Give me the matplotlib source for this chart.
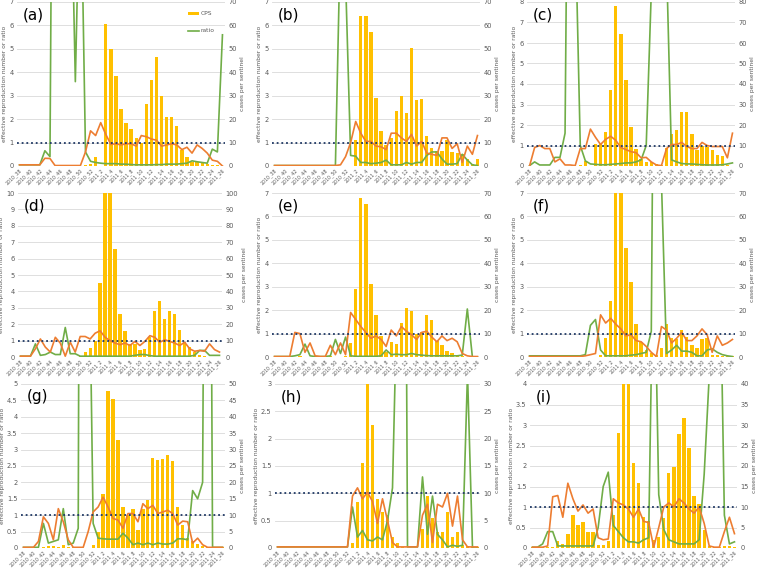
import matplotlib
matplotlib.use("Agg")
import matplotlib.pyplot as plt
from matplotlib.patches import Patch
from matplotlib.lines import Line2D
import numpy as np

weeks = ["2010_38", "2010_39", "2010_40", "2010_41", "2010_42", "2010_43", "2010_44",
         "2010_45", "2010_46", "2010_47", "2010_48", "2010_49", "2010_50", "2010_51",
         "2010_52", "2011_1", "2011_2", "2011_3", "2011_4", "2011_5", "2011_6",
         "2011_7", "2011_8", "2011_9", "2011_10", "2011_11", "2011_12", "2011_13",
         "2011_14", "2011_15", "2011_16", "2011_17", "2011_18", "2011_19", "2011_20",
         "2011_21", "2011_22", "2011_23", "2011_24", "2011_25", "2011_26"]

# ---- panel (a)
cps_a = [0, 0, 0, 0, 0, 0, 0, 0, 0, 0, 0, 0, 0, 0.3, 0.8, 3.8, 0, 60.5, 50, 38.5,
         24.5, 18.5, 16, 12, 10, 26.5, 36.5, 46.5, 30, 20.8, 21, 17.2, 7, 4, 1.8,
         1.5, 1.2, 1.0, 0.5, 0.3, 0.2]
rt_a = [0.05, 0.05, 0.05, 0.05, 0.05, 0.33, 0.32, 0.02, 0.02, 0.02, 0.02, 0.02, 0.02,
        0.6, 1.5, 1.3, 1.85, 1.35, 0.92, 0.95, 0.9, 0.95, 0.95, 0.85, 1.3, 1.25, 1.15,
        1.1, 0.85, 0.9, 0.95, 0.9, 0.7, 0.8, 0.55, 0.9, 0.75, 0.55, 0.25, 0.2, 0.0]
ratio_a = [0.05, 0.05, 0.05, 0.05, 0.05, 0.65, 0.4, 34, 40, 30, 14, 3.6, 13.4, 0.6,
           0.2, 0.15, 0.12, 0.1, 0.1, 0.1, 0.08, 0.08, 0.06, 0.05, 0.05, 0.05, 0.05,
           0.06, 0.06, 0.08, 0.08, 0.08, 0.1, 0.12, 0.22, 0.18, 0.15, 0.12, 0.72, 0.6, 5.6]

# ---- panel (b)
cps_b = [0, 0, 0, 0, 0, 0, 0, 0, 0, 0, 0, 0, 0, 0, 0, 0, 11, 64, 64, 57, 29, 15, 9,
         12, 23.5, 30, 22.5, 50.5, 28, 28.5, 13, 7.5, 6.5, 6.5, 11, 6, 5.5, 5, 3, 1, 3]
rt_b = [0.02, 0.02, 0.02, 0.02, 0.02, 0.02, 0.02, 0.02, 0.02, 0.02, 0.02, 0.02, 0.02,
        0.05, 0.4, 1.0, 1.9, 1.4, 1.05, 1.05, 0.85, 0.82, 0.7, 1.4, 1.4, 1.2, 1.05,
        1.35, 0.85, 1.05, 0.55, 0.5, 0.45, 1.2, 1.2, 0.75, 0.95, 0.15, 0.85, 0.5, 1.3]
ratio_b = [0.02, 0.02, 0.02, 0.02, 0.02, 0.02, 0.02, 0.02, 0.02, 0.02, 0.02, 0.02,
           0.02, 10, 8, 0.45, 0.42, 0.15, 0.15, 0.1, 0.12, 0.15, 0.25, 0.05, 0.05,
           0.05, 0.15, 0.08, 0.15, 0.15, 0.45, 0.6, 0.6, 0.3, 0.08, 0.08, 0.1, 0.5,
           0.25, 0.05, 0.02]

# ---- panel (c)
cps_c = [0, 0, 0, 0, 0, 0, 0, 0, 0, 0, 0.5, 2.5, 0, 10.5, 10.5, 16.5, 37, 78, 64.5,
         42, 19, 8.5, 3.5, 2, 2, 1, 0.3, 9, 15.5, 17.5, 26.5, 26.5, 15.5, 8, 10, 9.5,
         8, 5.5, 5, 0.3, 0.2]
rt_c = [0.0, 0.9, 1.0, 0.85, 0.85, 0.2, 0.35, 0.05, 0.05, 0.02, 0.85, 0.85, 1.8, 1.4,
        1.05, 1.3, 1.45, 1.25, 0.9, 0.8, 0.7, 0.65, 0.4, 0.42, 0.2, 0.05, 0.02, 0.85,
        1.05, 1.05, 1.15, 0.95, 0.85, 0.85, 1.15, 1.0, 0.95, 0.95, 0.95, 0.4, 1.6]
ratio_c = [0.02, 0.2, 0.05, 0.05, 0.05, 0.42, 0.42, 1.6, 30, 12, 1.0, 0.25, 0.1, 0.08,
           0.06, 0.06, 0.08, 0.1, 0.12, 0.15, 0.15, 0.2, 0.3, 1.0, 8.5, 40, 40, 10,
           0.3, 0.2, 0.12, 0.1, 0.1, 0.08, 0.06, 0.05, 0.05, 0.05, 0.06, 0.1, 0.15]

# ---- panel (d)
cps_d = [0, 0, 0, 0, 0, 0, 0, 0, 0, 0, 0, 0, 0.5, 3, 5.5, 10, 45, 100, 100, 66, 26,
         16, 8, 8, 4.5, 5, 12, 28, 34, 23, 28, 26.5, 16.5, 9, 6, 3, 1, 0.5, 0.3, 0.2, 0.1]
rt_d = [0.05, 0.05, 0.05, 0.5, 1.1, 0.6, 0.3, 1.2, 0.85, 0.05, 0.9, 0.3, 1.25, 1.25,
        1.1, 1.45, 1.6, 1.2, 1.0, 0.85, 0.75, 0.85, 0.7, 0.95, 0.7, 0.95, 1.3, 1.2,
        0.9, 1.05, 0.95, 0.85, 0.7, 0.9, 0.5, 0.35, 0.4, 0.35, 0.8, 0.45, 0.3]
ratio_d = [0.05, 0.05, 0.05, 0.8, 0.1, 0.15, 0.3, 0.15, 0.15, 1.8, 0.2, 0.2, 0.05,
           0.05, 0.05, 0.05, 0.05, 0.05, 0.05, 0.05, 0.05, 0.05, 0.05, 0.1, 0.15, 0.15,
           0.08, 0.05, 0.05, 0.05, 0.05, 0.05, 0.05, 0.05, 0.05, 0.1, 0.4, 0.4, 0.1,
           0.1, 0.1]

# ---- panel (e)
cps_e = [0, 0, 0, 0.5, 0, 0.3, 0, 0, 0, 0, 0, 0.3, 0, 0, 0.3, 6, 29, 68, 65.5, 31,
         18, 9, 2, 6.5, 5.5, 14.5, 21, 19.5, 10, 10.5, 18, 16, 7, 5, 2.5, 1.5, 1,
         0.5, 0.2, 0.1, 0]
rt_e = [0.02, 0.02, 0.02, 0.02, 1.05, 1.0, 0.2, 0.6, 0.05, 0.02, 0.02, 0.5, 0.1, 0.6,
        0.1, 1.9, 1.6, 1.3, 1.05, 0.8, 0.9, 0.75, 0.45, 1.15, 0.9, 1.3, 1.1, 0.95,
        0.75, 1.05, 1.1, 0.85, 0.65, 0.9, 0.7, 0.8, 0.65, 0.15, 0.05, 0.02, 0.02]
ratio_e = [0.02, 0.02, 0.02, 0.02, 0.05, 0.1, 0.55, 0.05, 0.02, 0.02, 0.02, 0.05,
           0.75, 0.15, 0.85, 0.05, 0.03, 0.03, 0.03, 0.03, 0.03, 0.05, 0.3, 0.1, 0.12,
           0.1, 0.1, 0.15, 0.1, 0.08, 0.06, 0.05, 0.05, 0.05, 0.05, 0.05, 0.05, 0.08,
           2.05, 0.0, 0.0]

# ---- panel (f)
cps_f = [0, 0, 0, 0, 0, 0, 0, 0, 0, 0, 0, 0, 0, 0, 1, 8, 24, 75, 75, 46.5, 32, 14,
         6.5, 3, 1.5, 1, 4, 14, 8, 7.5, 11.5, 8.5, 5, 4, 7.5, 8, 1, 1, 0.5, 0.5, 0.3]
rt_f = [0.02, 0.02, 0.02, 0.02, 0.02, 0.02, 0.02, 0.02, 0.02, 0.02, 0.02, 0.05, 0.1,
        0.15, 1.8, 1.45, 1.65, 1.4, 1.2, 0.9, 0.95, 0.7, 0.65, 0.45, 0.2, 0.02, 1.3,
        1.15, 0.6, 0.8, 1.05, 0.7, 0.7, 0.9, 1.2, 0.95, 0.2, 0.9, 0.5, 0.6, 0.75]
ratio_f = [0.05, 0.05, 0.05, 0.05, 0.05, 0.05, 0.05, 0.05, 0.05, 0.05, 0.05, 0.1,
           1.35, 1.6, 0.3, 0.05, 0.05, 0.05, 0.05, 0.05, 0.08, 0.1, 0.15, 0.2, 1.1,
           30, 7.5, 0.15, 0.3, 0.5, 0.25, 0.25, 0.2, 0.05, 0.05, 0.3, 0.35, 0.2, 0.1,
           0.05, 0.02]

# ---- panel (g)
cps_g = [0, 0, 0, 0, 0.3, 0.5, 0.5, 0.3, 1.0, 0.3, 0.3, 0, 0, 0, 1, 5, 16.5, 48,
         45.5, 33, 12.5, 10, 12, 5.5, 12, 14.5, 27.5, 26.8, 27, 28.3, 26.5, 12.5, 7,
         3, 2, 1.2, 0.5, 0.3, 0.3, 0.2, 0.2]
rt_g = [0.02, 0.02, 0.02, 0.2, 0.95, 0.75, 0.25, 1.2, 0.8, 0.25, 0.02, 0.02, 0.02,
        0.5, 1.1, 1.25, 1.55, 1.25, 0.9, 0.85, 0.6, 1.05, 1.05, 0.8, 1.35, 1.2, 1.3,
        1.05, 1.1, 1.15, 1.05, 0.7, 0.82, 0.8, 0.15, 0.3, 0.1, 0.02, 0.02, 0.02, 0.02]
ratio_g = [0.02, 0.02, 0.02, 0.02, 0.75, 0.15, 0.2, 0.25, 1.2, 0.1, 0.15, 0.6, 50,
           11.4, 0.75, 0.3, 0.28, 0.27, 0.27, 0.27, 0.45, 0.3, 0.1, 0.15, 0.1, 0.15,
           0.1, 0.15, 0.12, 0.12, 0.15, 0.28, 0.28, 0.25, 1.75, 1.5, 2.0, 30, 0.02,
           0.02, 0.02]

# ---- panel (h)
cps_h = [0, 0, 0, 0, 0, 0, 0, 0, 0, 0, 0, 0, 0, 0, 0, 1, 8.5, 15.5, 32, 22.5, 9,
         6.5, 6, 2, 1, 0.2, 0, 0, 0, 3.5, 9.5, 5.5, 3, 3, 6.5, 2, 3, 0.5, 0.3, 0.2, 0.2]
rt_h = [0.02, 0.02, 0.02, 0.02, 0.02, 0.02, 0.02, 0.02, 0.02, 0.02, 0.02, 0.02, 0.02,
        0.02, 0.02, 0.95, 1.1, 0.9, 1.02, 0.85, 0.45, 0.9, 0.5, 0.1, 0.02, 0.02, 0.02,
        0.02, 0.02, 0.6, 0.8, 0.1, 0.8, 0.75, 1.0, 0.4, 0.95, 0.15, 0.02, 0.02, 0.02]
ratio_h = [0.02, 0.02, 0.02, 0.02, 0.02, 0.02, 0.02, 0.02, 0.02, 0.02, 0.02, 0.02,
           0.02, 0.02, 0.02, 0.75, 0.2, 0.32, 0.15, 0.13, 0.2, 0.15, 0.5, 1.1, 5, 18,
           0.02, 0.02, 0.02, 1.3, 0.25, 0.95, 0.25, 0.15, 0.02, 0.05, 0.03, 0.05, 3.2,
           0.0, 0.0]

# ---- panel (i)
cps_i = [0.3, 0.3, 0.3, 0.2, 0.2, 1.7, 1.0, 3.4, 8, 5.6, 6.3, 3.8, 3.8, 0.8, 0.7, 1.6,
         8, 28, 42, 42, 20.8, 15.8, 7.5, 6.5, 2, 2.8, 7.4, 18.3, 19.7, 27.7, 31.7,
         24.5, 12.8, 10.7, 4.5, 0.5, 0.2, 0.2, 0.5, 0.5, 0.3]
rt_i = [0.02, 0.02, 0.02, 0.05, 1.25, 1.28, 0.75, 1.58, 1.2, 0.9, 1.05, 0.85, 0.95,
        0.25, 0.2, 0.22, 1.2, 1.1, 1.05, 0.95, 0.75, 0.95, 0.65, 0.62, 0.02, 0.5, 1.0,
        1.1, 1.0, 1.2, 1.1, 0.95, 0.85, 1.0, 0.6, 0.05, 0.02, 0.02, 0.4, 0.75, 0.35]
ratio_i = [0.02, 0.02, 0.1, 0.4, 0.4, 0.05, 0.05, 0.05, 0.05, 0.05, 0.05, 0.05, 0.05,
           0.5, 1.5, 1.85, 0.55, 0.4, 0.25, 0.15, 0.15, 0.12, 0.2, 0.25, 8, 1.3, 0.45,
           0.2, 0.15, 0.1, 0.1, 0.1, 0.1, 0.2, 1.8, 4.2, 20, 8, 0.8, 0.1, 0.15]

panel_labels = ["(a)", "(b)", "(c)", "(d)", "(e)", "(f)", "(g)", "(h)", "(i)"]
left_max = [7, 7, 8, 10, 7, 7, 5, 3, 4]
left_step = [1, 1, 1, 1, 1, 1, 0.5, 0.5, 0.5]
threshold = 1.0

# axes boxes in pixels: left, top, right, bottom
boxes = [(17, 2, 225, 166), (272, 2, 480, 166), (527, 2, 735, 166),
         (18, 193, 222, 357), (272, 193, 480, 357), (527, 193, 735, 357),
         (21, 384, 225, 548), (275, 384, 480, 548), (530, 384, 737, 548)]

series = [(cps_a, rt_a, ratio_a), (cps_b, rt_b, ratio_b), (cps_c, rt_c, ratio_c),
          (cps_d, rt_d, ratio_d), (cps_e, rt_e, ratio_e), (cps_f, rt_f, ratio_f),
          (cps_g, rt_g, ratio_g), (cps_h, rt_h, ratio_h), (cps_i, rt_i, ratio_i)]

W, H = 757, 569
BAR = "#FFC000"
ORANGE = "#ED7D31"
GREEN = "#70AD47"
NAVY = "#1F3864"
TXT = "#595959"
GRID = "#D9D9D9"

fig = plt.figure(figsize=(W / 100, H / 100), dpi=100)
fig.patch.set_facecolor("white")

x = np.arange(len(weeks))

for k in range(9):
    cps, rt, ratio = series[k]
    l, t, r, b = boxes[k]
    ax = fig.add_axes([l / W, 1 - b / H, (r - l) / W, (b - t) / H])
    ax2 = ax.twinx()
    ax.set_zorder(ax2.get_zorder() + 1)
    ax.patch.set_visible(False)

    ax2.set_axisbelow(True)
    ax2.yaxis.grid(True, color=GRID, lw=0.6)
    ax2.bar(x, cps, width=0.65, color=BAR, zorder=2, label="CPS")

    ax.plot(x, ratio, color=GREEN, lw=1.2, zorder=3, label="ratio")
    ax.plot(x, rt, color=ORANGE, lw=1.2, zorder=4)
    ax.axhline(threshold, color=NAVY, lw=1.3, ls=(0, (1, 1.6)), zorder=5)

    lm, ls_ = left_max[k], left_step[k]
    ax.set_ylim(0, lm)
    ax2.set_ylim(0, lm * 10)
    ax.set_xlim(-0.5, len(weeks) - 0.5)
    lt = np.arange(0, lm + ls_ / 2, ls_)
    ax.set_yticks(lt)
    ax.set_yticklabels([f"{v:g}" for v in lt])
    ax2.set_yticks(lt * 10)
    ax2.set_yticklabels([f"{v:g}" for v in lt * 10])

    ax.set_xticks(x[::2])
    ax.set_xticklabels(weeks[::2], rotation=45, ha="right", va="top",
                       rotation_mode="anchor", fontsize=3.4, color=TXT)

    for a in (ax, ax2):
        for s in a.spines.values():
            s.set_visible(False)
        a.tick_params(axis="y", length=0, labelsize=4.8, colors=TXT, pad=2.5)
    ax.tick_params(axis="x", length=0, pad=1.2, labelsize=3.4, colors=TXT)

    ax.set_ylabel("effective reproduction number or ratio", fontsize=4.3,
                  color=TXT, labelpad=1.5)
    ax2.set_ylabel("cases per sentinel", fontsize=4.3, color=TXT, labelpad=2.5)

    ax.text(6 / (r - l), 1 - 13 / (b - t), panel_labels[k], transform=ax.transAxes,
            fontsize=11, ha="left", va="center", color="black")

    if k == 0:
        handles = [Patch(facecolor=BAR, edgecolor="none"),
                   Line2D([0], [0], color=GREEN, lw=1.2)]
        ax.legend(handles, ["CPS", "ratio"], loc="upper right",
                  bbox_to_anchor=(0.975, 0.975), frameon=False, fontsize=4.3,
                  labelcolor=TXT, handlelength=1.8, handleheight=0.5,
                  handletextpad=0.2, labelspacing=2.0)

fig.savefig("out.png", dpi=100, facecolor="white")
